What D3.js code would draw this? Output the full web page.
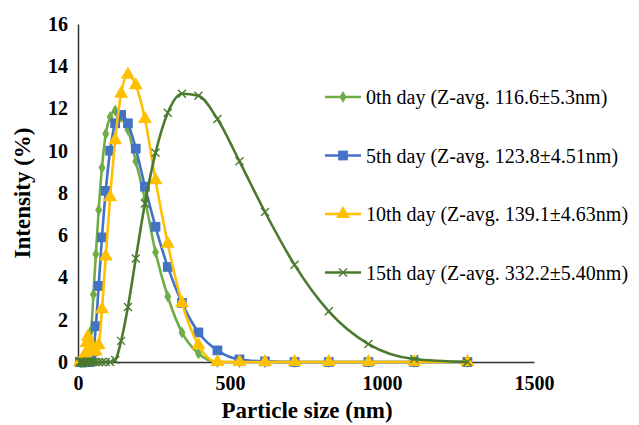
<!DOCTYPE html>
<html>
<head>
<meta charset="utf-8">
<script src="https://cdn.jsdelivr.net/npm/d3@7"></script>
<style>
  body { margin: 0; background: #fff; }
</style>
</head>
<body>
<div id="chart"></div>
<script>
// particle size bins (nm)
const sizes = [6.503, 7.531, 8.721, 10.10, 11.70, 13.54, 15.69, 18.17, 21.04, 24.36,
  28.21, 32.67, 37.84, 43.82, 50.75, 58.77, 68.06, 78.82, 91.28, 105.7,
  122.4, 141.8, 164.2, 190.1, 220.2, 255.0, 295.3, 342.0, 396.1, 458.7,
  531.2, 615.1, 712.4, 825.0, 955.4, 1106, 1281];

const day0 = [0, 0, 0, 0, 0, 0, 0, 0, 0, 0,
  0, 0.05, 0.4, 1.5, 3.2, 5.1, 7.2, 9.2, 10.8, 11.6,
  11.9, 11.6, 11.0, 9.5, 7.7, 5.2, 3.1, 1.4, 0.4, 0,
  0, 0, 0, 0, 0, 0, 0];
const day5 = [0, 0, 0, 0, 0, 0, 0, 0, 0, 0,
  0, 0, 0, 0.1, 0.5, 1.7, 3.6, 5.9, 8.1, 10.0,
  11.3, 11.7, 11.3, 10.1, 8.3, 6.4, 4.5, 2.8, 1.4, 0.55,
  0.12, 0.03, 0, 0, 0, 0, 0];
const day10 = [0, 0, 0, 0, 0, 0, 0, 0, 0.1, 0.4,
  0.9, 1.2, 1.0, 0.7, 0.5, 0.5, 0.8, 2.5, 5.0, 7.8,
  10.5, 12.7, 13.6, 13.1, 11.5, 8.6, 5.6, 2.8, 0.8, 0,
  0, 0, 0, 0, 0, 0, 0];
const day15 = [0, 0, 0, 0, 0, 0, 0, 0, 0, 0,
  0, 0, 0, 0, 0, 0, 0, 0, 0, 0,
  0.1, 1.0, 2.6, 4.9, 7.5, 9.9, 11.8, 12.7, 12.6, 11.5,
  9.5, 7.1, 4.6, 2.4, 0.85, 0.14, 0];

const seriesNames = [
  "0th day (Z-avg. 116.6\u00b15.3nm)",
  "5th day (Z-avg. 123.8\u00b14.51nm)",
  "10th day (Z-avg. 139.1\u00b14.63nm)",
  "15th day (Z-avg. 332.2\u00b15.40nm)"
];
const xTicks = [0, 500, 1000, 1500];
const yTicks = [0, 2, 4, 6, 8, 10, 12, 14, 16];

const FONT = "'Liberation Serif', 'Times New Roman', Times, serif";
const width = 639, height = 425;

const svg = d3.select("#chart").append("svg")
  .attr("width", width).attr("height", height)
  .style("font-family", FONT);

const x = d3.scaleLinear().domain([0, 1500]).range([78, 534]);
const y = d3.scaleLinear().domain([0, 16]).range([362, 24]);

const series = [
  { name: seriesNames[0], values: day0, color: "#70AD47", marker: "diamond" },
  { name: seriesNames[1], values: day5, color: "#4472C4", marker: "square" },
  { name: seriesNames[2], values: day10, color: "#FFC000", marker: "triangle" },
  { name: seriesNames[3], values: day15, color: "#4B7A2E", marker: "cross" }
];

// axes
const xAxis = svg.append("g").attr("transform", `translate(0,${y(0)})`)
  .call(d3.axisBottom(x).tickValues(xTicks).tickFormat(d3.format("d")).tickSize(0).tickPadding(14));
const yAxis = svg.append("g").attr("transform", `translate(${x(0)},0)`)
  .call(d3.axisLeft(y).tickValues(yTicks).tickSize(0).tickPadding(10));
[xAxis, yAxis].forEach(a => {
  a.attr("font-family", null);
  a.select(".domain").attr("stroke", "#333").attr("stroke-width", 1.5);
  a.selectAll("text")
    .style("font-family", FONT)
    .attr("font-size", 20).attr("font-weight", "bold").attr("fill", "#000");
});

const line = d3.line().x(d => x(d[0])).y(d => y(d[1])).curve(d3.curveMonotoneX);

function drawMarker(g, type, color) {
  if (type === "diamond") {
    g.append("path").attr("d", d3.symbol(d3.symbolDiamond, 42)()).attr("fill", color);
  } else if (type === "square") {
    g.append("path").attr("d", d3.symbol(d3.symbolSquare, 95)()).attr("fill", color);
  } else if (type === "triangle") {
    g.append("path").attr("d", d3.symbol(d3.symbolTriangle, 85)()).attr("fill", color);
  } else {
    g.append("path").attr("d", "M-4,-4L4,4M-4,4L4,-4")
      .attr("stroke", color).attr("stroke-width", 1.4).attr("fill", "none");
  }
}

series.forEach(s => {
  const pts = sizes.map((v, i) => [v, s.values[i]]);
  svg.append("path").datum(pts)
    .attr("d", line).attr("fill", "none")
    .attr("stroke", s.color).attr("stroke-width", 2.6);
  svg.append("g").selectAll("g").data(pts).enter().append("g")
    .attr("transform", d => `translate(${x(d[0])},${y(d[1])})`)
    .each(function () { drawMarker(d3.select(this), s.marker, s.color); });
});

// legend
const legend = svg.append("g");
series.forEach((s, i) => {
  const ly = 97 + i * 58.5;
  legend.append("line").attr("x1", 325).attr("x2", 361).attr("y1", ly).attr("y2", ly)
    .attr("stroke", s.color).attr("stroke-width", 2.6);
  const m = legend.append("g").attr("transform", `translate(343,${ly})`);
  drawMarker(m, s.marker, s.color);
  legend.append("text").attr("x", 366).attr("y", ly).attr("dy", "0.35em")
    .style("font-family", FONT)
    .attr("font-size", 20).attr("fill", "#000").text(s.name);
});

// axis titles
svg.append("text").attr("x", 307).attr("y", 418).attr("text-anchor", "middle")
  .style("font-family", FONT)
  .attr("font-size", 23).attr("font-weight", "bold").text("Particle size (nm)");
svg.append("text").attr("transform", "translate(30,193) rotate(-90)")
  .attr("text-anchor", "middle")
  .style("font-family", FONT)
  .attr("font-size", 23).attr("font-weight", "bold").text("Intensity (%)");
</script>
</body>
</html>
